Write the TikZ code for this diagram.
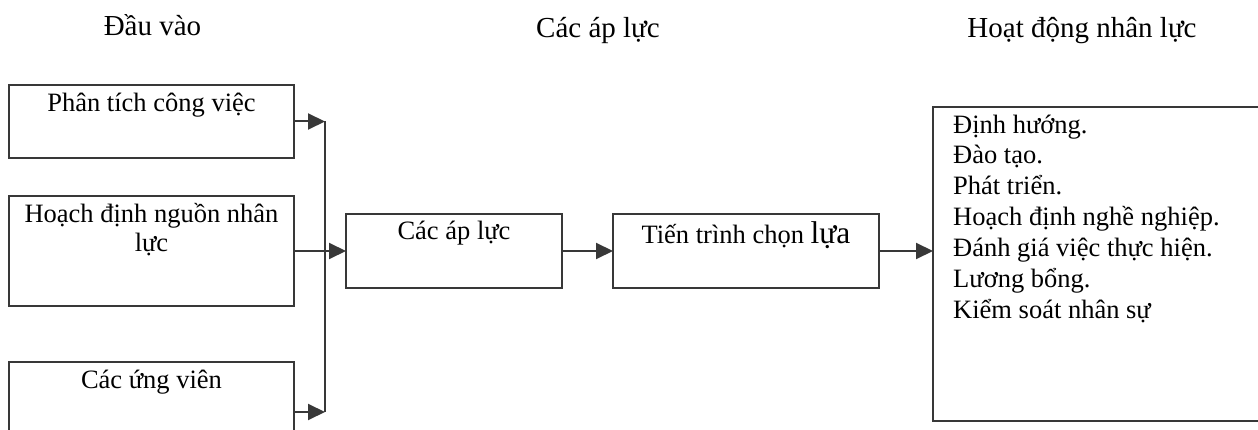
\documentclass[tikz,border=0pt]{standalone}
\usepackage{fontspec}
\setmainfont{Liberation Serif}
\usetikzlibrary{arrows.meta}
\definecolor{ln}{HTML}{383838}
\tikzset{
  box/.style={draw=ln, line width=2pt, inner sep=0pt, outer sep=0pt, rectangle},
  arr/.style={draw=ln, line width=2pt, -{Triangle[length=17pt,width=16pt]}},
  plain/.style={draw=ln, line width=2pt},
  txt/.style={inner sep=0pt, font=\fontsize{26.5}{30.8}\selectfont},
  head/.style={inner sep=0pt, anchor=base, font=\fontsize{29}{34}\selectfont}
}
\begin{document}
\begin{tikzpicture}[x=1pt,y=-1pt]
\useasboundingbox (0,0) rectangle (1258,430);
\clip (0,0) rectangle (1258,430);
% headers
\node[head] (h1) at (152.5,36) {Đầu vào};
\node[head] (h2) at (598,38) {Các áp lực};
\node[head] (h3) at (1082,38) {Hoạt động nhân lực};
% boxes
\node[box, minimum width=285pt, minimum height=73pt] (b1) at (151.5,121.5) {};
\node[box, minimum width=285pt, minimum height=110pt] (b2) at (151.5,251) {};
\node[box, minimum width=285pt, minimum height=80pt] (b3) at (151.5,402) {};
\node[box, minimum width=216pt, minimum height=74pt] (b4) at (454,251) {};
\node[box, minimum width=266pt, minimum height=74pt] (b5) at (746,251) {};
\node[box, minimum width=340pt, minimum height=314pt] (b6) at (1103,264) {};
% texts
\node[txt, anchor=base] (t1) at (151.5,112) {Phân tích công việc};
\node[txt, anchor=base] (t2a) at (151.5,223) {Hoạch định nguồn nhân};
\node[txt, anchor=base] (t2b) at (151.5,252) {lực};
\node[txt, anchor=base] (t3) at (151.5,388) {Các ứng viên};
\node[txt, anchor=base] (t4) at (454,240) {Các áp lực};
\node[txt, anchor=base] (t5) at (746,244) {Tiến trình chọn {\fontsize{31.5}{36}\selectfont lựa}};
\node[txt, anchor=base west, align=left] (t6) at (953,318) {Định hướng.\\Đào tạo.\\Phát triển.\\Hoạch định nghề nghiệp.\\Đánh giá việc thực hiện.\\Lương bổng.\\Kiểm soát nhân sự};
% connectors
\coordinate (j1) at (325,121.5);
\coordinate (j3) at (325,412);
\draw[plain] (j1) -- (j3);
\draw[arr] (b1.east) -- (j1);
\draw[arr] (b3.east |- j3) -- (j3);
\draw[arr] (b2.east) -- (b4.west);
\draw[arr] (b4.east) -- (b5.west);
\draw[arr] (b5.east) -- (b6.west |- b5.east);
\end{tikzpicture}
\end{document}
